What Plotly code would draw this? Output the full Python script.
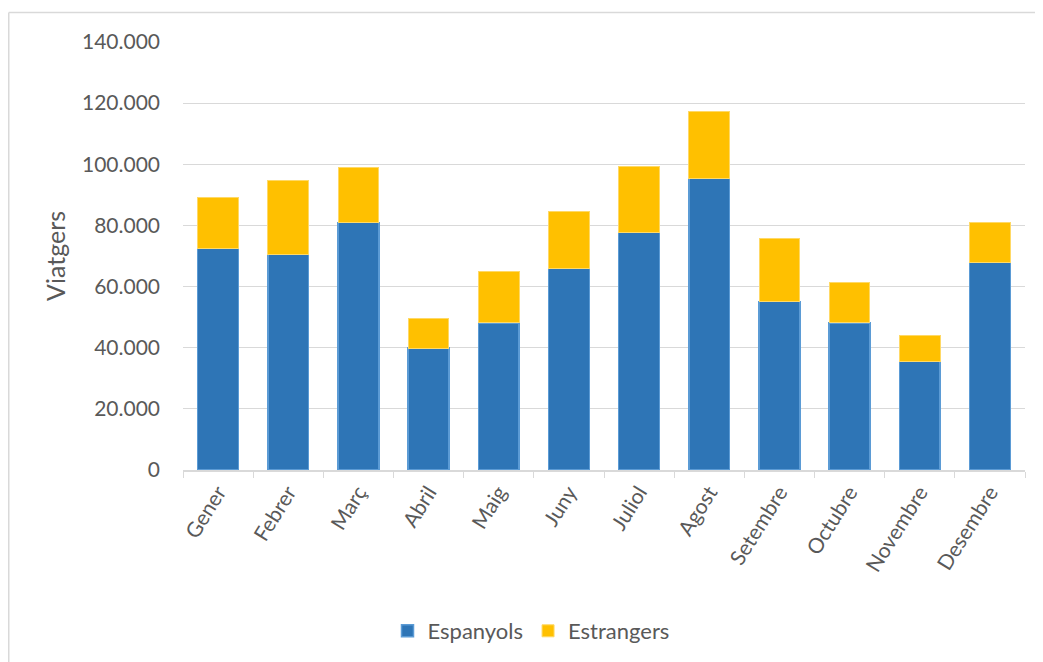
import plotly.graph_objects as go

months = ["Gener", "Febrer", "Març", "Abril", "Maig", "Juny", "Juliol",
          "Agost", "Setembre", "Octubre", "Novembre", "Desembre"]
espanyols = [72600, 70600, 81000, 39900, 48100, 65900, 77700, 95500, 55100, 48100, 35500, 67800]
totals = [89100, 94700, 99000, 49400, 64800, 84400, 99200, 117200, 75600, 61200, 44000, 80900]
estrangers = [t - e for t, e in zip(totals, espanyols)]
y_ticks = [0, 20000, 40000, 60000, 80000, 100000, 120000, 140000]
y_tick_labels = ["0", "20.000", "40.000", "60.000", "80.000", "100.000", "120.000", "140.000"]

FONT = "Lato"
TXT = "#595959"

W, H = 1035, 654
L, R, T, B = 175, 18, 34, 191
PW, PH = W - L - R, H - T - B


def px_x(fx):
    return (fx - L) / PW


def px_y(fy):
    return (H - B - fy) / PH


fig = go.Figure()
fig.add_trace(go.Bar(x=months, y=espanyols, name="Espanyols",
                     marker=dict(color="#2e75b6", line=dict(color="#5b9bd5", width=1.5))))
fig.add_trace(go.Bar(x=months, y=estrangers, name="Estrangers",
                     marker=dict(color="#ffc000", line=dict(color="#ffd966", width=1))))

border = dict(color="#d9d9d9", width=1.5)
fig.update_layout(
    barmode="stack",
    bargap=0.42,
    width=W, height=H,
    margin=dict(l=L, r=R, t=T, b=B),
    paper_bgcolor="white", plot_bgcolor="white",
    font=dict(family=FONT, color=TXT, size=20),
    showlegend=True,
    legend=dict(orientation="h", x=px_x(523), xanchor="center",
                y=px_y(623), yanchor="middle",
                font=dict(size=22, color=TXT), traceorder="normal"),
    xaxis=dict(showline=True, linecolor="#d9d9d9", linewidth=1.5,
               ticks="outside", tickson="boundaries", ticklen=6, tickcolor="#d9d9d9",
               tickangle=-58, tickfont=dict(size=21, color=TXT), showgrid=False),
    yaxis=dict(range=[0, 140000], tickvals=y_ticks, ticktext=y_tick_labels,
               showgrid=True, gridcolor="#d9d9d9", gridwidth=1.3, zeroline=False,
               showline=False, tickfont=dict(size=21, color=TXT), ticklabelstandoff=22,
               title=dict(text="Viatgers", font=dict(size=25, color=TXT), standoff=9)),
    shapes=[
        dict(type="line", xref="paper", yref="paper",
             x0=px_x(0.75), x1=px_x(0.75), y0=px_y(4.5), y1=px_y(H + 5), line=border),
        dict(type="line", xref="paper", yref="paper",
             x0=px_x(0.75), x1=px_x(W + 5), y0=px_y(4.5), y1=px_y(4.5), line=border),
    ],
)

fig.write_html("out.html")
